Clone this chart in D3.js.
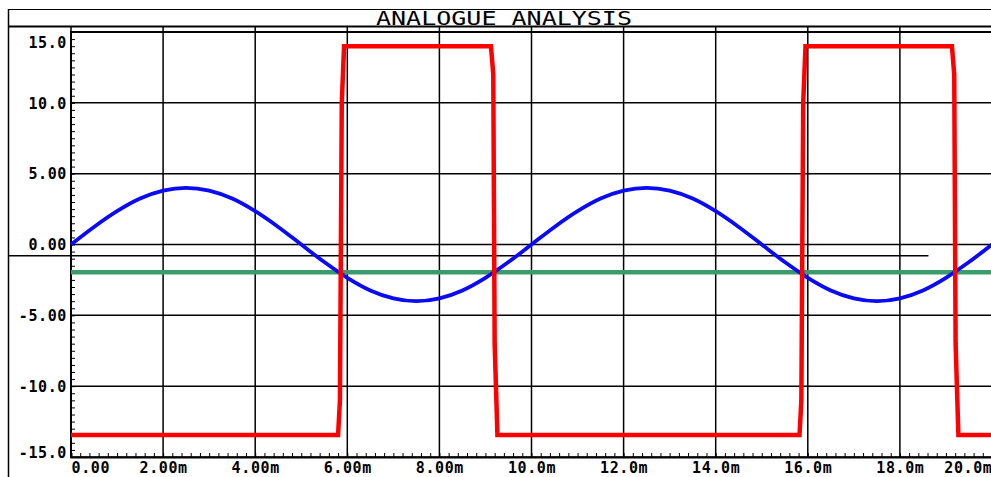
<!DOCTYPE html>
<html>
<head>
<meta charset="utf-8">
<script src="https://cdn.jsdelivr.net/npm/d3@7"></script>
<style>
  body { margin: 0; background: #fff; }
  svg { display: block; }
  text { font-family: "DejaVu Sans Mono", monospace; fill: #000; }
</style>
</head>
<body>
<svg id="viz" width="991" height="477"></svg>
<script>
// tick labels
var xTicks = [0, 2, 4, 6, 8, 10, 12, 14, 16, 18, 20];
var xTickLabels = ["0.00", "2.00m", "4.00m", "6.00m", "8.00m", "10.0m", "12.0m", "14.0m", "16.0m", "18.0m", "20.0m"];
var yTicks = [15, 10, 5, 0, -5, -10, -15];
var yTickLabels = ["15.0", "10.0", "5.00", "0.00", "-5.00", "-10.0", "-15.0"];

// square wave (ms, V)
var squareT = [0, 5.80, 5.84, 5.88, 5.93, 9.12, 9.17, 9.20, 9.26, 15.82, 15.86, 15.90, 15.95, 19.13, 19.18, 19.21, 19.27, 20];
var squareV = [-13.45, -13.45, -11, 10, 14.0, 14.0, 12, -7, -13.45, -13.45, -11, 10, 14.0, 14.0, 12, -7, -13.45, -13.45];

// sine input, read every 0.5 ms
var sineT = [0, 0.5, 1, 1.5, 2, 2.5, 3, 3.5, 4, 4.5, 5, 5.5, 6, 6.5, 7, 7.5, 8, 8.5, 9, 9.5, 10,
             10.5, 11, 11.5, 12, 12.5, 13, 13.5, 14, 14.5, 15, 15.5, 16, 16.5, 17, 17.5, 18, 18.5, 19, 19.5, 20];
var sineV = [0, 1.24, 2.35, 3.24, 3.8, 4.0, 3.8, 3.24, 2.35, 1.24, 0, -1.24, -2.35, -3.24, -3.8, -4.0, -3.8, -3.24, -2.35, -1.24, 0,
             1.24, 2.35, 3.24, 3.8, 4.0, 3.8, 3.24, 2.35, 1.24, 0, -1.24, -2.35, -3.24, -3.8, -4.0, -3.8, -3.24, -2.35, -1.24, 0];

// reference level and marker
var refLevel = -1.95;
var markerLevel = -0.8, markerEnd = 18.62;

var svg = d3.select("#viz");

var x = d3.scaleLinear().domain([0, 20]).range([71, 992]);
var y = d3.scaleLinear().domain([-15, 15]).range([457, 32]);

// outer frame + title bar
svg.append("line").attr("x1", 8).attr("x2", 991).attr("y1", 9.5).attr("y2", 9.5)
  .attr("stroke", "#000").attr("stroke-width", 1);
svg.append("line").attr("x1", 8.5).attr("x2", 8.5).attr("y1", 9).attr("y2", 477)
  .attr("stroke", "#000").attr("stroke-width", 1.5);
svg.append("line").attr("x1", 8).attr("x2", 991).attr("y1", 26.5).attr("y2", 26.5)
  .attr("stroke", "#000").attr("stroke-width", 2);
svg.append("text").attr("x", 376).attr("y", 24.5)
  .attr("font-size", 19).attr("textLength", 256).attr("lengthAdjust", "spacingAndGlyphs")
  .text("ANALOGUE ANALYSIS");

// grid
svg.append("g").selectAll("line").data(xTicks).enter().append("line")
  .attr("x1", d => x(d)).attr("x2", d => x(d)).attr("y1", 27).attr("y2", 457)
  .attr("stroke", "#000").attr("stroke-width", 1.5);
svg.append("g").selectAll("line").data(yTicks).enter().append("line")
  .attr("x1", 71).attr("x2", 991).attr("y1", d => y(d)).attr("y2", d => y(d))
  .attr("stroke", "#000").attr("stroke-width", 1.5);

// plot border (left + top + bottom)
svg.append("line").attr("x1", 71).attr("x2", 71).attr("y1", 31).attr("y2", 458)
  .attr("stroke", "#000").attr("stroke-width", 2);
svg.append("line").attr("x1", 70).attr("x2", 991).attr("y1", 32).attr("y2", 32)
  .attr("stroke", "#000").attr("stroke-width", 2);

// minor ticks via axes
var xMinor = d3.range(0, 20.01, 0.2);
var yMinor = d3.range(-15, 15.01, 0.5);
svg.append("g").attr("transform", "translate(0,457)")
  .call(d3.axisTop(x).tickValues(xMinor).tickSize(4).tickFormat(""))
  .call(g => g.select(".domain").attr("stroke-width", 2))
  .selectAll(".tick line").attr("stroke-width", 1);
svg.append("g").attr("transform", "translate(71,0)")
  .call(d3.axisRight(y).tickValues(yMinor).tickSize(4).tickFormat(""))
  .call(g => g.select(".domain").remove())
  .selectAll(".tick line").attr("stroke-width", 1);

// tick labels
var xAxis = svg.append("g").attr("transform", "translate(0,457)")
  .call(d3.axisBottom(x).tickValues(xTicks).tickSize(0).tickPadding(5)
    .tickFormat((d, i) => xTickLabels[i]));
xAxis.select(".domain").remove();
xAxis.selectAll("text")
  .attr("font-family", "DejaVu Sans Mono").attr("font-size", 15).attr("font-weight", "bold")
  .attr("letter-spacing", 0.6).attr("fill", "#000")
  .attr("text-anchor", (d, i) => i === 0 ? "start" : (i === xTicks.length - 1 ? "end" : "middle"));

var yAxis = svg.append("g").attr("transform", "translate(71,0)")
  .call(d3.axisLeft(y).tickValues(yTicks).tickSize(0).tickPadding(4)
    .tickFormat((d, i) => yTickLabels[i]));
yAxis.select(".domain").remove();
yAxis.selectAll("text")
  .attr("font-family", "DejaVu Sans Mono").attr("font-size", 15).attr("font-weight", "bold")
  .attr("letter-spacing", 0.6).attr("fill", "#000")
  .attr("dy", d => d === 15 ? "1.0em" : (d === -15 ? "0em" : "0.35em"));

// marker line
svg.append("line").attr("x1", 8).attr("x2", x(markerEnd))
  .attr("y1", y(markerLevel)).attr("y2", y(markerLevel))
  .attr("stroke", "#000").attr("stroke-width", 1.5);

// traces
svg.append("line").attr("x1", 71).attr("x2", 991)
  .attr("y1", y(refLevel)).attr("y2", y(refLevel))
  .attr("stroke", "#3b9b6d").attr("stroke-width", 4.5);

var sineLine = d3.line().x((d, i) => x(sineT[i])).y(d => y(d)).curve(d3.curveMonotoneX);
svg.append("path").datum(sineV).attr("d", sineLine)
  .attr("fill", "none").attr("stroke", "#0a0af5").attr("stroke-width", 3.8);

var sqLine = d3.line().x((d, i) => x(squareT[i])).y(d => y(d));
svg.append("path").datum(squareV).attr("d", sqLine)
  .attr("fill", "none").attr("stroke", "#ff0000").attr("stroke-width", 4.5);
</script>
</body>
</html>
